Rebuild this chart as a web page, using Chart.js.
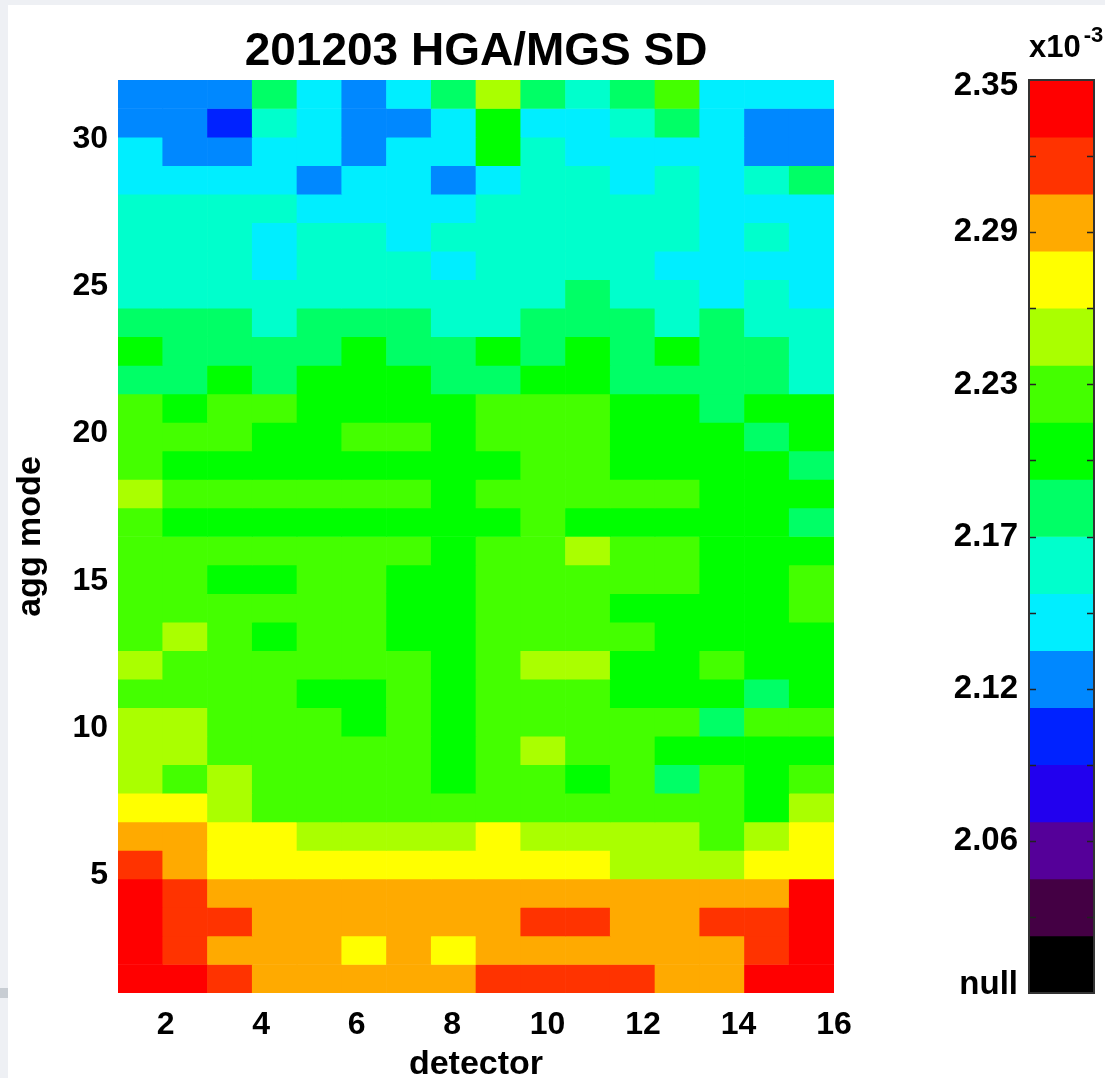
<!DOCTYPE html>
<html>
<head>
<meta charset="utf-8">
<title>201203 HGA/MGS SD</title>
<script src="https://cdn.jsdelivr.net/npm/chart.js@4.4.1/dist/chart.umd.min.js"></script>
<style>
  html, body { margin: 0; padding: 0; background: #eef0f4; overflow: hidden; }
  #panel { position: absolute; left: 8px; top: 5px; width: 1097px; height: 1073px; background: #fff; }
  #mark { position: absolute; left: 0; top: 988px; width: 8px; height: 10px; background: #c8cdd3; }
  canvas { position: absolute; top: 0; }
  #sd { left: 0; }
  #bar { left: 930px; }
</style>
</head>
<body>
<div id="panel"></div>
<div id="mark"></div>
<canvas id="sd" width="1105" height="1078"></canvas>
<canvas id="bar" width="175" height="1078"></canvas>
<script>
const heading = "201203 HGA/MGS SD";
const detectors = [1,2,3,4,5,6,7,8,9,10,11,12,13,14,15,16];
const aggModes = [];
for (let m = 1; m <= 32; m++) aggModes.push(m);
const xTicks = [2,4,6,8,10,12,14,16];
const yTicks = [5,10,15,20,25,30];

// SD (x10^-3), one row per agg mode, from mode 1 (bottom) up to 32
const sd = [
  [2.339,2.339,2.317,2.295,2.295,2.295,2.295,2.295,2.317,2.317,2.317,2.317,2.295,2.295,2.339,2.339],
  [2.339,2.317,2.295,2.295,2.295,2.273,2.295,2.273,2.295,2.295,2.295,2.295,2.295,2.295,2.317,2.339],
  [2.339,2.317,2.317,2.295,2.295,2.295,2.295,2.295,2.295,2.317,2.317,2.295,2.295,2.317,2.317,2.339],
  [2.339,2.317,2.295,2.295,2.295,2.295,2.295,2.295,2.295,2.295,2.295,2.295,2.295,2.295,2.295,2.339],
  [2.317,2.295,2.273,2.273,2.273,2.273,2.273,2.273,2.273,2.273,2.273,2.251,2.251,2.251,2.273,2.273],
  [2.295,2.295,2.273,2.273,2.251,2.251,2.251,2.251,2.273,2.251,2.251,2.251,2.251,2.229,2.251,2.273],
  [2.273,2.273,2.251,2.229,2.229,2.229,2.229,2.229,2.229,2.229,2.229,2.229,2.229,2.229,2.207,2.251],
  [2.251,2.229,2.251,2.229,2.229,2.229,2.229,2.207,2.229,2.229,2.207,2.229,2.186,2.229,2.207,2.229],
  [2.251,2.251,2.229,2.229,2.229,2.229,2.229,2.207,2.229,2.251,2.229,2.229,2.207,2.207,2.207,2.207],
  [2.251,2.251,2.229,2.229,2.229,2.207,2.229,2.207,2.229,2.229,2.229,2.229,2.229,2.186,2.229,2.229],
  [2.229,2.229,2.229,2.229,2.207,2.207,2.229,2.207,2.229,2.229,2.229,2.207,2.207,2.207,2.186,2.207],
  [2.251,2.229,2.229,2.229,2.229,2.229,2.229,2.207,2.229,2.251,2.251,2.207,2.207,2.229,2.207,2.207],
  [2.229,2.251,2.229,2.207,2.229,2.229,2.207,2.207,2.229,2.229,2.229,2.229,2.207,2.207,2.207,2.207],
  [2.229,2.229,2.229,2.229,2.229,2.229,2.207,2.207,2.229,2.229,2.229,2.207,2.207,2.207,2.207,2.229],
  [2.229,2.229,2.207,2.207,2.229,2.229,2.207,2.207,2.229,2.229,2.229,2.229,2.229,2.207,2.207,2.229],
  [2.229,2.229,2.229,2.229,2.229,2.229,2.229,2.207,2.229,2.229,2.251,2.229,2.229,2.207,2.207,2.207],
  [2.229,2.207,2.207,2.207,2.207,2.207,2.207,2.207,2.207,2.229,2.207,2.207,2.207,2.207,2.207,2.186],
  [2.251,2.229,2.229,2.229,2.229,2.229,2.229,2.207,2.229,2.229,2.229,2.229,2.229,2.207,2.207,2.207],
  [2.229,2.207,2.207,2.207,2.207,2.207,2.207,2.207,2.207,2.229,2.229,2.207,2.207,2.207,2.207,2.186],
  [2.229,2.229,2.229,2.207,2.207,2.229,2.229,2.207,2.229,2.229,2.229,2.207,2.207,2.207,2.186,2.207],
  [2.229,2.207,2.229,2.229,2.207,2.207,2.207,2.207,2.229,2.229,2.229,2.207,2.207,2.186,2.207,2.207],
  [2.186,2.186,2.207,2.186,2.207,2.207,2.207,2.186,2.186,2.207,2.207,2.186,2.186,2.186,2.186,2.164],
  [2.207,2.186,2.186,2.186,2.186,2.207,2.186,2.186,2.207,2.186,2.207,2.186,2.207,2.186,2.186,2.164],
  [2.186,2.186,2.186,2.164,2.186,2.186,2.186,2.164,2.164,2.186,2.186,2.186,2.164,2.186,2.164,2.164],
  [2.164,2.164,2.164,2.164,2.164,2.164,2.164,2.164,2.164,2.164,2.186,2.164,2.164,2.142,2.164,2.142],
  [2.164,2.164,2.164,2.142,2.164,2.164,2.164,2.142,2.164,2.164,2.164,2.164,2.142,2.142,2.142,2.142],
  [2.164,2.164,2.164,2.142,2.164,2.164,2.142,2.164,2.164,2.164,2.164,2.164,2.164,2.142,2.164,2.142],
  [2.164,2.164,2.164,2.164,2.142,2.142,2.142,2.142,2.164,2.164,2.164,2.164,2.164,2.142,2.142,2.142],
  [2.142,2.142,2.142,2.142,2.120,2.142,2.142,2.120,2.142,2.164,2.164,2.142,2.164,2.142,2.164,2.186],
  [2.142,2.120,2.120,2.142,2.142,2.120,2.142,2.142,2.207,2.164,2.142,2.142,2.142,2.142,2.120,2.120],
  [2.120,2.120,2.098,2.164,2.142,2.120,2.120,2.142,2.207,2.142,2.142,2.164,2.186,2.142,2.120,2.120],
  [2.120,2.120,2.120,2.186,2.142,2.120,2.142,2.186,2.251,2.186,2.164,2.186,2.229,2.142,2.142,2.142]
];

// colour table, top of the bar downwards; last entry is the null colour
const levelColors = [
  "#ff0000","#ff3300","#ffaa00","#ffff00","#aaff00","#44ff00","#00ff00","#00ff66",
  "#00ffcc","#00eeff","#0088ff","#0022ff","#2200ee","#550099","#440044","#000000"
];
const barMax = 2.35;
const barMin = 2.0;
const barTicks = [2.35, 2.2917, 2.2333, 2.175, 2.1167, 2.0583, 2.0];
const barTickLabels = ["2.35","2.29","2.23","2.17","2.12","2.06","null"];

const FONT = "'Liberation Sans', Arial, Helvetica, sans-serif";
const binWidth = (barMax - barMin) / levelColors.length;

function levelColor(v){
  const k = Math.floor((barMax - v) / binWidth);
  return levelColors[Math.min(Math.max(k, 0), levelColors.length - 2)];
}

Chart.defaults.color = "#000";
Chart.defaults.font.family = FONT;

// each cell is a floating bar: x at the column centre, y spanning its row
const xMin = 1, xMax = 16, yMin = 1, yMax = 32;
const colW = (xMax - xMin) / detectors.length;
const rowH = (yMax - yMin) / aggModes.length;
const cells = [];
const cellColors = [];
aggModes.forEach((m, j) => {
  detectors.forEach((d, i) => {
    cells.push({x: xMin + (i + 0.5) * colW, y: [yMin + j * rowH, yMin + (j + 1) * rowH]});
    cellColors.push(levelColor(sd[j][i]));
  });
});

const headingPlugin = {
  id: "heading",
  afterDraw(chart){
    const {ctx, chartArea: a} = chart;
    ctx.save();
    ctx.font = "bold 46px " + FONT;
    ctx.fillStyle = "#000";
    ctx.textAlign = "center";
    ctx.textBaseline = "middle";
    ctx.fillText(heading, (a.left + a.right) / 2, 52);
    ctx.restore();
  }
};

new Chart(document.getElementById("sd"), {
  type: "bar",
  data: {
    datasets: [{
      data: cells,
      backgroundColor: cellColors,
      borderWidth: 0,
      barPercentage: 1,
      categoryPercentage: 1
    }]
  },
  options: {
    responsive: false,
    animation: false,
    layout: {padding: {top: 80, right: 271, bottom: 0, left: 0}},
    plugins: {legend: {display: false}, tooltip: {enabled: false}},
    scales: {
      x: {
        type: "linear",
        min: xMin,
        max: xMax,
        offset: false,
        grid: {display: false, drawTicks: false, offset: false},
        border: {display: false},
        afterBuildTicks: s => { s.ticks = xTicks.map(v => ({value: v})); },
        afterFit: s => { s.height = 85; },
        ticks: {font: {size: 32, weight: "bold"}, padding: 13, maxRotation: 0},
        title: {display: true, text: "detector", font: {size: 34, weight: "bold", lineHeight: 0.78}, padding: {top: 0, bottom: 0}}
      },
      y: {
        type: "linear",
        min: yMin,
        max: yMax,
        grid: {display: false, drawTicks: false},
        border: {display: false},
        afterBuildTicks: s => { s.ticks = yTicks.map(v => ({value: v})); },
        afterFit: s => { s.width = 118; },
        ticks: {font: {size: 32, weight: "bold"}, padding: 10},
        title: {display: true, text: "agg mode", font: {size: 34, weight: "bold", lineHeight: 1}, padding: {top: 14, bottom: 0}}
      }
    }
  },
  plugins: [headingPlugin]
});

// colour bar: labels, inner tick marks, frame and exponent
const barDecor = {
  id: "barDecor",
  afterDraw(chart){
    const {ctx, chartArea: a, scales: {y}} = chart;
    ctx.save();
    ctx.strokeStyle = "#222";
    ctx.lineWidth = 1.5;
    const minorStep = (barMax - barMin) / 12;
    for (let k = 1; k < 12; k++) {
      const py = Math.round(y.getPixelForValue(barMax - k * minorStep)) + 0.5;
      ctx.beginPath();
      ctx.moveTo(a.left, py); ctx.lineTo(a.left + 7, py);
      ctx.moveTo(a.right - 7, py); ctx.lineTo(a.right, py);
      ctx.stroke();
    }
    ctx.strokeStyle = "#333";
    ctx.lineWidth = 2;
    ctx.strokeRect(a.left, a.top, a.right - a.left, a.bottom - a.top);

    ctx.fillStyle = "#000";
    ctx.font = "bold 33px " + FONT;
    ctx.textAlign = "right";
    ctx.textBaseline = "middle";
    barTicks.forEach((v, i) => {
      const py = Math.min(Math.max(y.getPixelForValue(v), a.top + 6), a.bottom - 8);
      ctx.fillText(barTickLabels[i], a.left - 11, py);
    });

    ctx.textAlign = "left";
    ctx.font = "bold 31px " + FONT;
    ctx.fillText("x10", a.left, 48);
    const w = ctx.measureText("x10").width;
    ctx.font = "bold 22px " + FONT;
    ctx.fillText("-3", a.left + w + 3, 36);
    ctx.restore();
  }
};

new Chart(document.getElementById("bar"), {
  type: "bar",
  data: {
    labels: [""],
    datasets: levelColors.map((c, i) => ({
      data: [[barMax - (i + 1) * binWidth, barMax - i * binWidth]],
      backgroundColor: c,
      borderWidth: 0,
      grouped: false,
      barPercentage: 1,
      categoryPercentage: 1
    }))
  },
  options: {
    responsive: false,
    animation: false,
    layout: {padding: {top: 80, right: 11, bottom: 85, left: 99}},
    plugins: {legend: {display: false}, tooltip: {enabled: false}},
    scales: {
      x: {display: false},
      y: {display: false, min: barMin, max: barMax}
    }
  },
  plugins: [barDecor]
});
</script>
</body>
</html>
